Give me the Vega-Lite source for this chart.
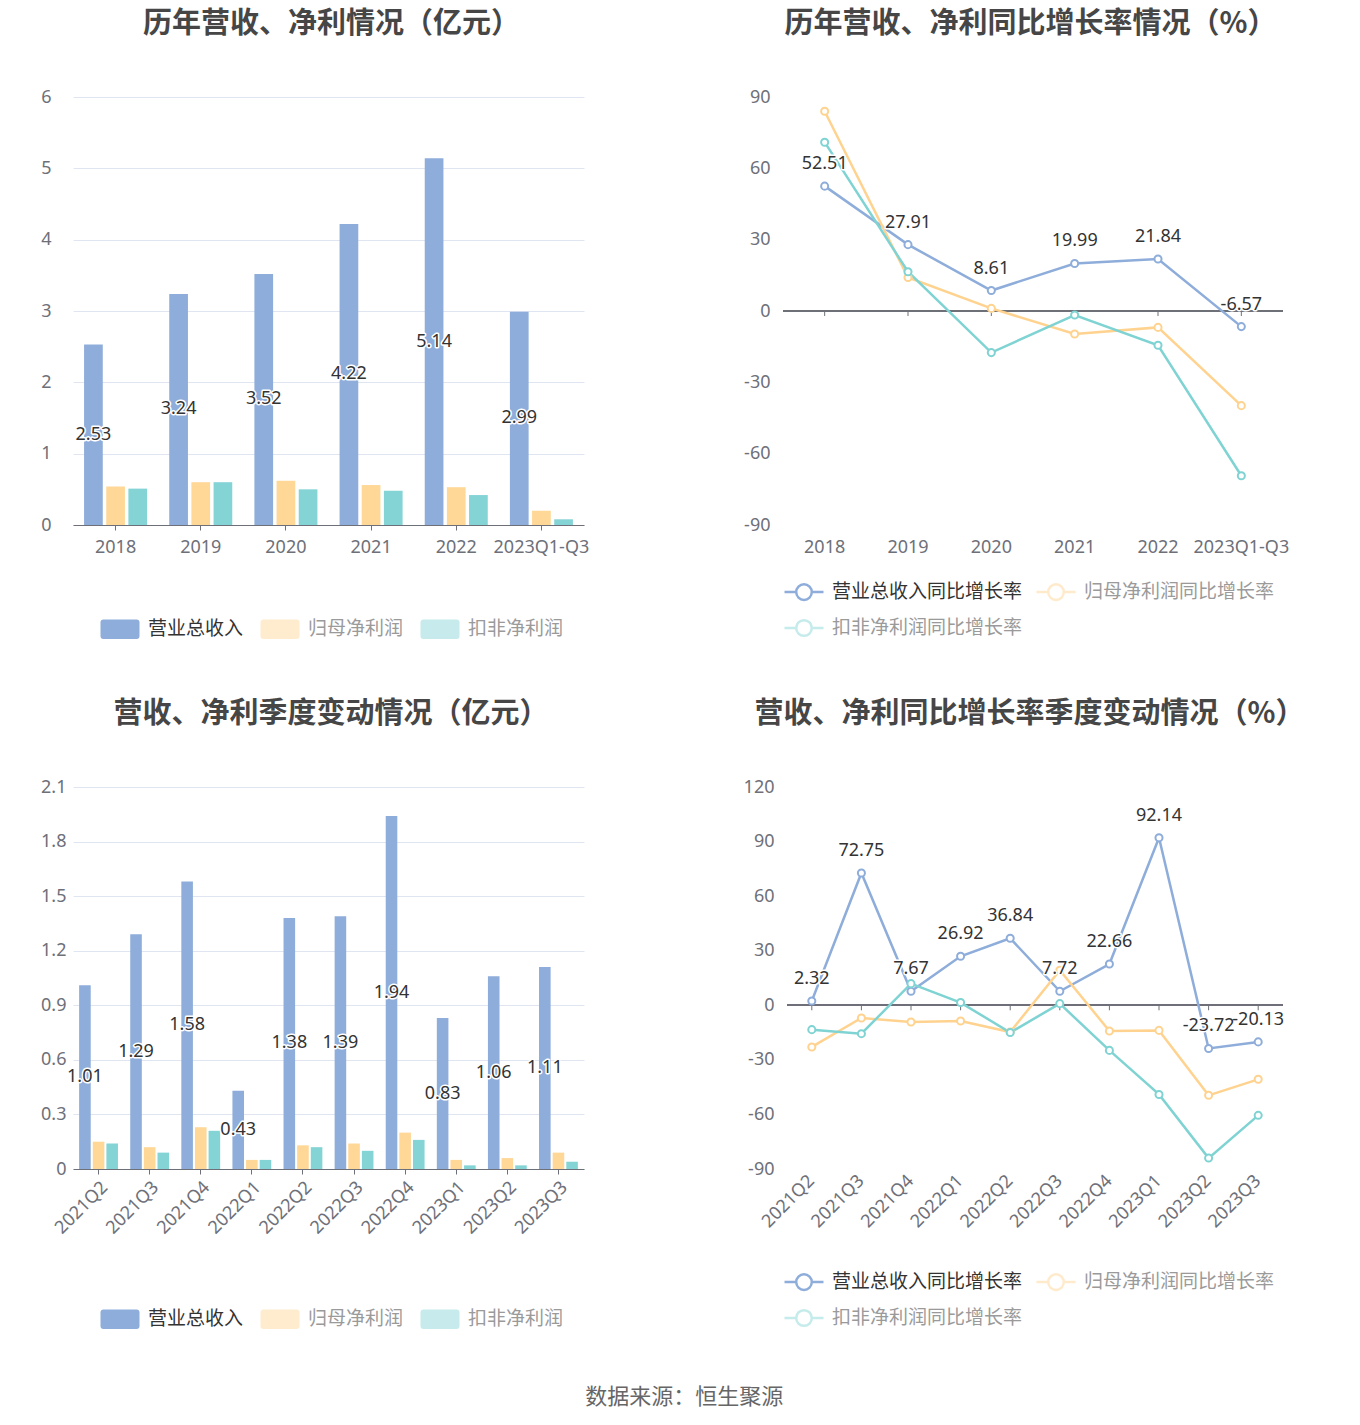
{
  "$schema": "https://vega.github.io/schema/vega-lite/v6.json",
  "background": "white",
  "padding": {"left": 10, "top": 10, "right": 10, "bottom": 10},
  "config": {
    "font": "Noto Sans CJK SC",
    "view": {"stroke": null},
    "axis": {"labelFont": "Noto Sans", "labelFontSize": 18, "labelColor": "#6e7079", "gridColor": "#e0e6f1", "gridWidth": 1, "domainColor": "#6e7079", "tickColor": "#6e7079"},
    "title": {"font": "Noto Sans CJK SC", "fontSize": 29, "fontWeight": "bold", "color": "#464646"},
    "legend": {"labelFont": "Noto Sans CJK SC", "labelFontSize": 19, "labelOffset": 7, "columnPadding": 11, "rowPadding": 2, "padding": 0, "labelLimit": 400, "symbolStrokeWidth": 2.5}
  },
  "datasets": {
    "annual": [
      {"period": "2018", "metric": "营业总收入", "value": 2.53},
      {"period": "2018", "metric": "归母净利润", "value": 0.54},
      {"period": "2018", "metric": "扣非净利润", "value": 0.51},
      {"period": "2019", "metric": "营业总收入", "value": 3.24},
      {"period": "2019", "metric": "归母净利润", "value": 0.60},
      {"period": "2019", "metric": "扣非净利润", "value": 0.60},
      {"period": "2020", "metric": "营业总收入", "value": 3.52},
      {"period": "2020", "metric": "归母净利润", "value": 0.62},
      {"period": "2020", "metric": "扣非净利润", "value": 0.50},
      {"period": "2021", "metric": "营业总收入", "value": 4.22},
      {"period": "2021", "metric": "归母净利润", "value": 0.56},
      {"period": "2021", "metric": "扣非净利润", "value": 0.48},
      {"period": "2022", "metric": "营业总收入", "value": 5.14},
      {"period": "2022", "metric": "归母净利润", "value": 0.53},
      {"period": "2022", "metric": "扣非净利润", "value": 0.42},
      {"period": "2023Q1-Q3", "metric": "营业总收入", "value": 2.99},
      {"period": "2023Q1-Q3", "metric": "归母净利润", "value": 0.20},
      {"period": "2023Q1-Q3", "metric": "扣非净利润", "value": 0.08}
    ],
    "annualGrowth": [
      {"period": "2018", "metric": "营业总收入同比增长率", "value": 52.51},
      {"period": "2019", "metric": "营业总收入同比增长率", "value": 27.91},
      {"period": "2020", "metric": "营业总收入同比增长率", "value": 8.61},
      {"period": "2021", "metric": "营业总收入同比增长率", "value": 19.99},
      {"period": "2022", "metric": "营业总收入同比增长率", "value": 21.84},
      {"period": "2023Q1-Q3", "metric": "营业总收入同比增长率", "value": -6.57},
      {"period": "2018", "metric": "归母净利润同比增长率", "value": 84.0},
      {"period": "2019", "metric": "归母净利润同比增长率", "value": 14.1},
      {"period": "2020", "metric": "归母净利润同比增长率", "value": 1.1},
      {"period": "2021", "metric": "归母净利润同比增长率", "value": -9.7},
      {"period": "2022", "metric": "归母净利润同比增长率", "value": -6.9},
      {"period": "2023Q1-Q3", "metric": "归母净利润同比增长率", "value": -39.8},
      {"period": "2018", "metric": "扣非净利润同比增长率", "value": 71.0},
      {"period": "2019", "metric": "扣非净利润同比增长率", "value": 16.5},
      {"period": "2020", "metric": "扣非净利润同比增长率", "value": -17.5},
      {"period": "2021", "metric": "扣非净利润同比增长率", "value": -1.7},
      {"period": "2022", "metric": "扣非净利润同比增长率", "value": -14.4},
      {"period": "2023Q1-Q3", "metric": "扣非净利润同比增长率", "value": -69.3}
    ],
    "quarterly": [
      {"period": "2021Q2", "metric": "营业总收入", "value": 1.01},
      {"period": "2021Q2", "metric": "归母净利润", "value": 0.15},
      {"period": "2021Q2", "metric": "扣非净利润", "value": 0.14},
      {"period": "2021Q3", "metric": "营业总收入", "value": 1.29},
      {"period": "2021Q3", "metric": "归母净利润", "value": 0.12},
      {"period": "2021Q3", "metric": "扣非净利润", "value": 0.09},
      {"period": "2021Q4", "metric": "营业总收入", "value": 1.58},
      {"period": "2021Q4", "metric": "归母净利润", "value": 0.23},
      {"period": "2021Q4", "metric": "扣非净利润", "value": 0.21},
      {"period": "2022Q1", "metric": "营业总收入", "value": 0.43},
      {"period": "2022Q1", "metric": "归母净利润", "value": 0.05},
      {"period": "2022Q1", "metric": "扣非净利润", "value": 0.05},
      {"period": "2022Q2", "metric": "营业总收入", "value": 1.38},
      {"period": "2022Q2", "metric": "归母净利润", "value": 0.13},
      {"period": "2022Q2", "metric": "扣非净利润", "value": 0.12},
      {"period": "2022Q3", "metric": "营业总收入", "value": 1.39},
      {"period": "2022Q3", "metric": "归母净利润", "value": 0.14},
      {"period": "2022Q3", "metric": "扣非净利润", "value": 0.10},
      {"period": "2022Q4", "metric": "营业总收入", "value": 1.94},
      {"period": "2022Q4", "metric": "归母净利润", "value": 0.20},
      {"period": "2022Q4", "metric": "扣非净利润", "value": 0.16},
      {"period": "2023Q1", "metric": "营业总收入", "value": 0.83},
      {"period": "2023Q1", "metric": "归母净利润", "value": 0.05},
      {"period": "2023Q1", "metric": "扣非净利润", "value": 0.02},
      {"period": "2023Q2", "metric": "营业总收入", "value": 1.06},
      {"period": "2023Q2", "metric": "归母净利润", "value": 0.06},
      {"period": "2023Q2", "metric": "扣非净利润", "value": 0.02},
      {"period": "2023Q3", "metric": "营业总收入", "value": 1.11},
      {"period": "2023Q3", "metric": "归母净利润", "value": 0.09},
      {"period": "2023Q3", "metric": "扣非净利润", "value": 0.04}
    ],
    "quarterlyGrowth": [
      {"period": "2021Q2", "metric": "营业总收入同比增长率", "value": 2.32},
      {"period": "2021Q3", "metric": "营业总收入同比增长率", "value": 72.75},
      {"period": "2021Q4", "metric": "营业总收入同比增长率", "value": 7.67},
      {"period": "2022Q1", "metric": "营业总收入同比增长率", "value": 26.92},
      {"period": "2022Q2", "metric": "营业总收入同比增长率", "value": 36.84},
      {"period": "2022Q3", "metric": "营业总收入同比增长率", "value": 7.72},
      {"period": "2022Q4", "metric": "营业总收入同比增长率", "value": 22.66},
      {"period": "2023Q1", "metric": "营业总收入同比增长率", "value": 92.14},
      {"period": "2023Q2", "metric": "营业总收入同比增长率", "value": -23.72},
      {"period": "2023Q3", "metric": "营业总收入同比增长率", "value": -20.13},
      {"period": "2021Q2", "metric": "归母净利润同比增长率", "value": -22.9},
      {"period": "2021Q3", "metric": "归母净利润同比增长率", "value": -7.0},
      {"period": "2021Q4", "metric": "归母净利润同比增长率", "value": -9.2},
      {"period": "2022Q1", "metric": "归母净利润同比增长率", "value": -8.6},
      {"period": "2022Q2", "metric": "归母净利润同比增长率", "value": -14.7},
      {"period": "2022Q3", "metric": "归母净利润同比增长率", "value": 19.3},
      {"period": "2022Q4", "metric": "归母净利润同比增长率", "value": -14.1},
      {"period": "2023Q1", "metric": "归母净利润同比增长率", "value": -13.8},
      {"period": "2023Q2", "metric": "归母净利润同比增长率", "value": -49.5},
      {"period": "2023Q3", "metric": "归母净利润同比增长率", "value": -40.7},
      {"period": "2021Q2", "metric": "扣非净利润同比增长率", "value": -13.4},
      {"period": "2021Q3", "metric": "扣非净利润同比增长率", "value": -15.6},
      {"period": "2021Q4", "metric": "扣非净利润同比增长率", "value": 11.9},
      {"period": "2022Q1", "metric": "扣非净利润同比增长率", "value": 1.5},
      {"period": "2022Q2", "metric": "扣非净利润同比增长率", "value": -15.0},
      {"period": "2022Q3", "metric": "扣非净利润同比增长率", "value": 0.9},
      {"period": "2022Q4", "metric": "扣非净利润同比增长率", "value": -24.8},
      {"period": "2023Q1", "metric": "扣非净利润同比增长率", "value": -49.0},
      {"period": "2023Q2", "metric": "扣非净利润同比增长率", "value": -84.0},
      {"period": "2023Q3", "metric": "扣非净利润同比增长率", "value": -60.5}
    ]
  },
  "title": {"text": "数据来源：恒生聚源", "orient": "bottom", "anchor": "middle", "fontSize": 22, "fontWeight": "normal", "color": "#666666", "offset": 53, "dx": 27},
  "columns": 2,
  "align": "none",
  "spacing": {"row": 56, "column": 144},
  "resolve": {"scale": {"x": "independent", "y": "independent", "color": "independent", "xOffset": "independent"}, "legend": {"color": "independent"}},
  "concat": [
    {
      "width": 511, "height": 428,
      "title": {"text": "历年营收、净利情况（亿元）", "offset": 49, "dx": 3},
      "data": {"name": "annual"},
      "resolve": {"scale": {"y": "independent"}},
      "layer": [
        {
          "mark": {"type": "bar"},
          "encoding": {
            "x": {"field": "period", "type": "nominal", "sort": null, "title": null, "scale": {"paddingInner": 0.26, "paddingOuter": 0.13}, "axis": {"labelAngle": 0, "labelAlign": "center", "ticks": true, "tickSize": 5, "labelPadding": 8}},
            "xOffset": {"field": "metric", "type": "nominal", "scale": {"domain": ["营业总收入", "归母净利润", "扣非净利润"], "paddingInner": 0.156}},
            "y": {"field": "value", "type": "quantitative", "title": null, "scale": {"domain": [0, 6], "nice": false}, "axis": {"values": [0, 1, 2, 3, 4, 5, 6], "labelExpr": "'' + datum.value", "domain": false, "ticks": false, "labelPadding": 22, "minExtent": 63, "maxExtent": 63}},
            "color": {"field": "metric", "type": "nominal", "scale": {"domain": ["营业总收入", "归母净利润", "扣非净利润"], "range": ["#8eadda", "#ffd797", "#84d4d6"]},
              "legend": {"title": null, "orient": "none", "legendX": 26, "legendY": 511, "direction": "horizontal", "columns": 3,
                "symbolType": "M-0.85,-0.5L0.85,-0.5Q1,-0.5,1,-0.35L1,0.35Q1,0.5,0.85,0.5L-0.85,0.5Q-1,0.5,-1,0.35L-1,-0.35Q-1,-0.5,-0.85,-0.5Z", "symbolSize": 1521,
                "encoding": {
                  "symbols": {"opacity": {"condition": {"test": "datum.value === '营业总收入'", "value": 1}, "value": 0.45}, "stroke": {"value": "transparent"}},
                  "labels": {"fill": {"condition": {"test": "datum.value === '营业总收入'", "value": "#333333"}, "value": "#9a9a9a"}}
                }}}
          }
        },
        {
          "transform": [{"filter": "datum.metric === '营业总收入'"}],
          "mark": {"type": "text", "font": "Noto Sans", "fontSize": 18, "baseline": "middle", "fill": "white", "stroke": "white", "strokeWidth": 3, "strokeJoin": "round"},
          "encoding": {
            "x": {"field": "period", "type": "nominal", "sort": null},
            "xOffset": {"field": "metric", "type": "nominal", "scale": {"domain": ["营业总收入", "归母净利润", "扣非净利润"]}},
            "y": {"field": "value", "type": "quantitative", "scale": {"domain": [0, 12], "nice": false}, "axis": null},
            "text": {"field": "value", "type": "nominal"}
          }
        },
        {
          "transform": [{"filter": "datum.metric === '营业总收入'"}],
          "mark": {"type": "text", "font": "Noto Sans", "fontSize": 18, "baseline": "middle", "fill": "#333333"},
          "encoding": {
            "x": {"field": "period", "type": "nominal", "sort": null},
            "xOffset": {"field": "metric", "type": "nominal", "scale": {"domain": ["营业总收入", "归母净利润", "扣非净利润"]}},
            "y": {"field": "value", "type": "quantitative", "scale": {"domain": [0, 12], "nice": false}, "axis": null},
            "text": {"field": "value", "type": "nominal"}
          }
        }
      ]
    },
    {
      "width": 500, "height": 428,
      "title": {"text": "历年营收、净利同比增长率情况（%）", "offset": 49, "dx": -2.5},
      "data": {"name": "annualGrowth"},
      "layer": [
        {
          "mark": {"type": "rule", "color": "#6e7079", "strokeWidth": 1},
          "encoding": {"y": {"datum": 0, "type": "quantitative", "scale": {"domain": [-90, 90], "nice": false}}}
        },
        {
          "transform": [{"filter": "datum.metric === '营业总收入同比增长率'"}],
          "mark": {"type": "rule", "color": "#6e7079", "strokeWidth": 1},
          "encoding": {"x": {"field": "period", "type": "nominal", "sort": null}, "y": {"datum": 0, "type": "quantitative", "scale": {"domain": [-90, 90], "nice": false}}, "y2": {"datum": -2.1}}
        },
        {
          "mark": {"type": "line", "strokeWidth": 2.5},
          "encoding": {
            "x": {"field": "period", "type": "nominal", "sort": null, "title": null, "axis": {"labelAngle": 0, "labelAlign": "center", "domain": false, "ticks": false, "labelPadding": 22}},
            "y": {"field": "value", "type": "quantitative", "title": null, "scale": {"domain": [-90, 90], "nice": false}, "axis": {"values": [-90, -60, -30, 0, 30, 60, 90], "labelExpr": "'' + datum.value", "domain": false, "ticks": false, "labelPadding": 13, "minExtent": 50, "maxExtent": 50}},
            "color": {"field": "metric", "type": "nominal", "scale": {"domain": ["营业总收入同比增长率", "归母净利润同比增长率", "扣非净利润同比增长率"], "range": ["#8eadda", "#ffd38f", "#7fd3d3"]},
              "legend": {"title": null, "orient": "none", "legendX": 0, "legendY": 474, "direction": "horizontal", "columns": 2, "columnPadding": 8,
                "symbolType": "M-1,0L-0.4,0M0.4,0L1,0M-0.4,0A0.4,0.4,0,1,1,0.4,0A0.4,0.4,0,1,1,-0.4,0Z", "symbolSize": 1521,
                "encoding": {
                  "symbols": {"opacity": {"condition": {"test": "datum.value === '营业总收入同比增长率'", "value": 1}, "value": 0.45}, "fill": {"value": "white"}},
                  "labels": {"fill": {"condition": {"test": "datum.value === '营业总收入同比增长率'", "value": "#333333"}, "value": "#9a9a9a"}}
                }}}
          }
        },
        {
          "mark": {"type": "point", "filled": false, "fill": "white", "opacity": 1, "size": 50, "strokeWidth": 2},
          "encoding": {
            "x": {"field": "period", "type": "nominal", "sort": null},
            "y": {"field": "value", "type": "quantitative"},
            "color": {"field": "metric", "type": "nominal"}
          }
        },
        {
          "transform": [{"filter": "datum.metric === '营业总收入同比增长率'"}],
          "mark": {"type": "text", "font": "Noto Sans", "fontSize": 18, "baseline": "alphabetic", "dy": -17, "fill": "white", "stroke": "white", "strokeWidth": 3, "strokeJoin": "round"},
          "encoding": {
            "x": {"field": "period", "type": "nominal", "sort": null},
            "y": {"field": "value", "type": "quantitative"},
            "text": {"field": "value", "type": "nominal"}
          }
        },
        {
          "transform": [{"filter": "datum.metric === '营业总收入同比增长率'"}],
          "mark": {"type": "text", "font": "Noto Sans", "fontSize": 18, "baseline": "alphabetic", "dy": -17, "fill": "#333333"},
          "encoding": {
            "x": {"field": "period", "type": "nominal", "sort": null},
            "y": {"field": "value", "type": "quantitative"},
            "text": {"field": "value", "type": "nominal"}
          }
        }
      ]
    },
    {
      "width": 511, "height": 382,
      "title": {"text": "营收、净利季度变动情况（亿元）", "offset": 49, "dx": 2.5},
      "data": {"name": "quarterly"},
      "resolve": {"scale": {"y": "independent"}},
      "layer": [
        {
          "mark": {"type": "bar"},
          "encoding": {
            "x": {"field": "period", "type": "nominal", "sort": null, "title": null, "scale": {"paddingInner": 0.24, "paddingOuter": 0.12}, "axis": {"labelAngle": -45, "ticks": true, "tickSize": 5, "labelPadding": 4}},
            "xOffset": {"field": "metric", "type": "nominal", "scale": {"domain": ["营业总收入", "归母净利润", "扣非净利润"], "paddingInner": 0.15}},
            "y": {"field": "value", "type": "quantitative", "title": null, "scale": {"domain": [0, 2.1], "nice": false}, "axis": {"values": [0, 0.3, 0.6, 0.9, 1.2, 1.5, 1.8, 2.1], "labelExpr": "'' + datum.value", "domain": false, "ticks": false, "labelPadding": 7, "minExtent": 63, "maxExtent": 63}},
            "color": {"field": "metric", "type": "nominal", "scale": {"domain": ["营业总收入", "归母净利润", "扣非净利润"], "range": ["#8eadda", "#ffd797", "#84d4d6"]},
              "legend": {"title": null, "orient": "none", "legendX": 26, "legendY": 511, "direction": "horizontal", "columns": 3,
                "symbolType": "M-0.85,-0.5L0.85,-0.5Q1,-0.5,1,-0.35L1,0.35Q1,0.5,0.85,0.5L-0.85,0.5Q-1,0.5,-1,0.35L-1,-0.35Q-1,-0.5,-0.85,-0.5Z", "symbolSize": 1521,
                "encoding": {
                  "symbols": {"opacity": {"condition": {"test": "datum.value === '营业总收入'", "value": 1}, "value": 0.45}, "stroke": {"value": "transparent"}},
                  "labels": {"fill": {"condition": {"test": "datum.value === '营业总收入'", "value": "#333333"}, "value": "#9a9a9a"}}
                }}}
          }
        },
        {
          "transform": [{"filter": "datum.metric === '营业总收入'"}],
          "mark": {"type": "text", "font": "Noto Sans", "fontSize": 18, "baseline": "middle", "fill": "white", "stroke": "white", "strokeWidth": 3, "strokeJoin": "round"},
          "encoding": {
            "x": {"field": "period", "type": "nominal", "sort": null},
            "xOffset": {"field": "metric", "type": "nominal", "scale": {"domain": ["营业总收入", "归母净利润", "扣非净利润"]}},
            "y": {"field": "value", "type": "quantitative", "scale": {"domain": [0, 4.2], "nice": false}, "axis": null},
            "text": {"field": "value", "type": "nominal"}
          }
        },
        {
          "transform": [{"filter": "datum.metric === '营业总收入'"}],
          "mark": {"type": "text", "font": "Noto Sans", "fontSize": 18, "baseline": "middle", "fill": "#333333"},
          "encoding": {
            "x": {"field": "period", "type": "nominal", "sort": null},
            "xOffset": {"field": "metric", "type": "nominal", "scale": {"domain": ["营业总收入", "归母净利润", "扣非净利润"]}},
            "y": {"field": "value", "type": "quantitative", "scale": {"domain": [0, 4.2], "nice": false}, "axis": null},
            "text": {"field": "value", "type": "nominal"}
          }
        }
      ]
    },
    {
      "width": 496, "height": 382,
      "title": {"text": "营收、净利同比增长率季度变动情况（%）", "offset": 49, "dx": -5.5},
      "data": {"name": "quarterlyGrowth"},
      "layer": [
        {
          "mark": {"type": "rule", "color": "#6e7079", "strokeWidth": 1},
          "encoding": {"y": {"datum": 0, "type": "quantitative", "scale": {"domain": [-90, 120], "nice": false}}}
        },
        {
          "transform": [{"filter": "datum.metric === '营业总收入同比增长率'"}],
          "mark": {"type": "rule", "color": "#6e7079", "strokeWidth": 1},
          "encoding": {"x": {"field": "period", "type": "nominal", "sort": null}, "y": {"datum": 0, "type": "quantitative", "scale": {"domain": [-90, 120], "nice": false}}, "y2": {"datum": -2.75}}
        },
        {
          "mark": {"type": "line", "strokeWidth": 2.5},
          "encoding": {
            "x": {"field": "period", "type": "nominal", "sort": null, "title": null, "axis": {"labelAngle": -45, "domain": false, "ticks": false, "labelPadding": 9}},
            "y": {"field": "value", "type": "quantitative", "title": null, "scale": {"domain": [-90, 120], "nice": false}, "axis": {"values": [-90, -60, -30, 0, 30, 60, 90, 120], "labelExpr": "'' + datum.value", "domain": false, "ticks": false, "labelPadding": 13, "minExtent": 54, "maxExtent": 54}},
            "color": {"field": "metric", "type": "nominal", "scale": {"domain": ["营业总收入同比增长率", "归母净利润同比增长率", "扣非净利润同比增长率"], "range": ["#8eadda", "#ffd38f", "#7fd3d3"]},
              "legend": {"title": null, "orient": "none", "legendX": -4, "legendY": 474, "direction": "horizontal", "columns": 2, "columnPadding": 8,
                "symbolType": "M-1,0L-0.4,0M0.4,0L1,0M-0.4,0A0.4,0.4,0,1,1,0.4,0A0.4,0.4,0,1,1,-0.4,0Z", "symbolSize": 1521,
                "encoding": {
                  "symbols": {"opacity": {"condition": {"test": "datum.value === '营业总收入同比增长率'", "value": 1}, "value": 0.45}, "fill": {"value": "white"}},
                  "labels": {"fill": {"condition": {"test": "datum.value === '营业总收入同比增长率'", "value": "#333333"}, "value": "#9a9a9a"}}
                }}}
          }
        },
        {
          "mark": {"type": "point", "filled": false, "fill": "white", "opacity": 1, "size": 50, "strokeWidth": 2},
          "encoding": {
            "x": {"field": "period", "type": "nominal", "sort": null},
            "y": {"field": "value", "type": "quantitative"},
            "color": {"field": "metric", "type": "nominal"}
          }
        },
        {
          "transform": [{"filter": "datum.metric === '营业总收入同比增长率'"}],
          "mark": {"type": "text", "font": "Noto Sans", "fontSize": 18, "baseline": "alphabetic", "dy": -17, "fill": "white", "stroke": "white", "strokeWidth": 3, "strokeJoin": "round"},
          "encoding": {
            "x": {"field": "period", "type": "nominal", "sort": null},
            "y": {"field": "value", "type": "quantitative"},
            "text": {"field": "value", "type": "nominal"}
          }
        },
        {
          "transform": [{"filter": "datum.metric === '营业总收入同比增长率'"}],
          "mark": {"type": "text", "font": "Noto Sans", "fontSize": 18, "baseline": "alphabetic", "dy": -17, "fill": "#333333"},
          "encoding": {
            "x": {"field": "period", "type": "nominal", "sort": null},
            "y": {"field": "value", "type": "quantitative"},
            "text": {"field": "value", "type": "nominal"}
          }
        }
      ]
    }
  ]
}
